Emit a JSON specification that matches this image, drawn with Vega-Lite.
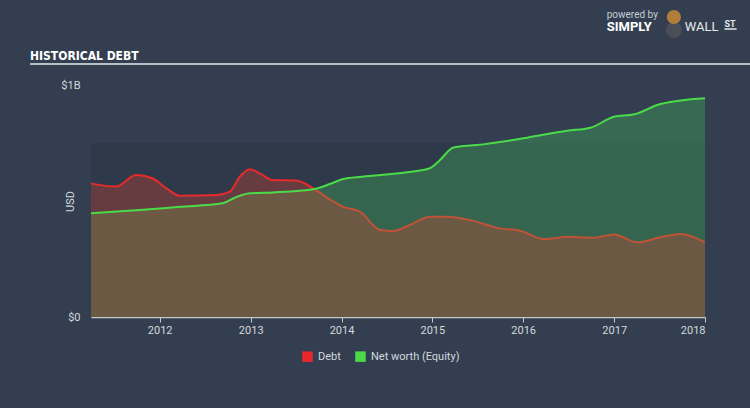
{
  "$schema": "https://vega.github.io/schema/vega-lite/v6.json",
  "width": 614,
  "height": 232,
  "autosize": {"type": "none"},
  "padding": {"left": 91, "top": 85, "right": 45, "bottom": 91},
  "background": "#333f50",
  "config": {
    "view": {"stroke": null},
    "font": "Roboto",
    "axis": {"grid": false, "labelFont": "Roboto", "titleFont": "Roboto"},
    "axisX": {"format": "%Y", "labelFlush": true, "domainColor": "#c3c9cf", "domainWidth": 1.5, "tickColor": "#c3c9cf",
              "tickSize": 5, "tickWidth": 1, "labelPadding": 2, "labelColor": "#d4d8dc", "labelFontSize": 11},
    "axisY": {"domain": false, "ticks": false, "labelPadding": 11, "labelColor": "#d4d8dc", "labelFontSize": 11,
              "titleColor": "#d4d8dc", "titleFontSize": 11, "titleFontWeight": "normal", "titleAngle": -90,
              "titleX": -18, "titleY": 116, "titleAlign": "center", "titleBaseline": "alphabetic",
              "labelExpr": "datum.value == 0 ? '$0' : '$1B'"}
  },
  "datasets": {
    "debt": [
      {"date": "2011-03-31", "series": "Debt", "usd": 576000000},
      {"date": "2011-07-10", "series": "Debt", "usd": 562000000},
      {"date": "2011-09-28", "series": "Debt", "usd": 612000000},
      {"date": "2011-12-03", "series": "Debt", "usd": 598000000},
      {"date": "2012-01-28", "series": "Debt", "usd": 555000000},
      {"date": "2012-03-22", "series": "Debt", "usd": 523000000},
      {"date": "2012-08-16", "series": "Debt", "usd": 526000000},
      {"date": "2012-10-09", "series": "Debt", "usd": 540000000},
      {"date": "2012-11-18", "series": "Debt", "usd": 605000000},
      {"date": "2012-12-28", "series": "Debt", "usd": 637000000},
      {"date": "2013-02-07", "series": "Debt", "usd": 619000000},
      {"date": "2013-04-01", "series": "Debt", "usd": 590000000},
      {"date": "2013-07-03", "series": "Debt", "usd": 588000000},
      {"date": "2013-09-15", "series": "Debt", "usd": 550000000},
      {"date": "2013-11-15", "series": "Debt", "usd": 507000000},
      {"date": "2014-01-08", "series": "Debt", "usd": 475000000},
      {"date": "2014-03-16", "series": "Debt", "usd": 454000000},
      {"date": "2014-06-05", "series": "Debt", "usd": 375000000},
      {"date": "2014-07-28", "series": "Debt", "usd": 371000000},
      {"date": "2014-10-03", "series": "Debt", "usd": 397000000},
      {"date": "2014-12-22", "series": "Debt", "usd": 432000000},
      {"date": "2015-02-28", "series": "Debt", "usd": 432000000},
      {"date": "2015-05-19", "series": "Debt", "usd": 421000000},
      {"date": "2015-09-30", "series": "Debt", "usd": 382000000},
      {"date": "2015-12-20", "series": "Debt", "usd": 372000000},
      {"date": "2016-03-25", "series": "Debt", "usd": 336000000},
      {"date": "2016-06-26", "series": "Debt", "usd": 346000000},
      {"date": "2016-10-11", "series": "Debt", "usd": 342000000},
      {"date": "2016-12-31", "series": "Debt", "usd": 356000000},
      {"date": "2017-04-04", "series": "Debt", "usd": 322000000},
      {"date": "2017-07-06", "series": "Debt", "usd": 344000000},
      {"date": "2017-09-25", "series": "Debt", "usd": 358000000},
      {"date": "2018-01-01", "series": "Debt", "usd": 322000000}
    ],
    "equity": [
      {"date": "2011-03-31", "series": "Net worth (Equity)", "usd": 447000000},
      {"date": "2011-10-12", "series": "Net worth (Equity)", "usd": 461000000},
      {"date": "2012-03-22", "series": "Net worth (Equity)", "usd": 475000000},
      {"date": "2012-09-10", "series": "Net worth (Equity)", "usd": 490000000},
      {"date": "2012-10-29", "series": "Net worth (Equity)", "usd": 514000000},
      {"date": "2012-12-28", "series": "Net worth (Equity)", "usd": 533000000},
      {"date": "2013-04-01", "series": "Net worth (Equity)", "usd": 537000000},
      {"date": "2013-09-15", "series": "Net worth (Equity)", "usd": 552000000},
      {"date": "2013-11-15", "series": "Net worth (Equity)", "usd": 573000000},
      {"date": "2014-01-08", "series": "Net worth (Equity)", "usd": 595000000},
      {"date": "2014-03-25", "series": "Net worth (Equity)", "usd": 605000000},
      {"date": "2014-09-20", "series": "Net worth (Equity)", "usd": 624000000},
      {"date": "2014-12-22", "series": "Net worth (Equity)", "usd": 641000000},
      {"date": "2015-02-01", "series": "Net worth (Equity)", "usd": 677000000},
      {"date": "2015-03-27", "series": "Net worth (Equity)", "usd": 731000000},
      {"date": "2015-06-28", "series": "Net worth (Equity)", "usd": 741000000},
      {"date": "2016-01-17", "series": "Net worth (Equity)", "usd": 773000000},
      {"date": "2016-06-26", "series": "Net worth (Equity)", "usd": 803000000},
      {"date": "2016-09-28", "series": "Net worth (Equity)", "usd": 816000000},
      {"date": "2016-12-31", "series": "Net worth (Equity)", "usd": 863000000},
      {"date": "2017-03-23", "series": "Net worth (Equity)", "usd": 874000000},
      {"date": "2017-07-06", "series": "Net worth (Equity)", "usd": 918000000},
      {"date": "2018-01-01", "series": "Net worth (Equity)", "usd": 943000000}
    ],
    "one": [{}]
  },
  "layer": [
    {
      "data": {"name": "one"},
      "mark": {"type": "rect", "fill": "#2e3a4a"},
      "encoding": {
        "x": {"datum": {"year": 2011, "month": 3, "date": 31}, "type": "temporal",
              "scale": {"domain": [{"year": 2011, "month": 3, "date": 31}, {"year": 2018, "month": 1, "date": 1}], "nice": false}},
        "x2": {"datum": {"year": 2018, "month": 1, "date": 1}},
        "y": {"datum": 0, "type": "quantitative", "scale": {"domain": [0, 1000000000], "nice": false}},
        "y2": {"datum": 750000000}
      }
    },
    {
      "data": {"name": "debt"},
      "mark": {"type": "line", "strokeWidth": 2, "interpolate": "monotone"},
      "encoding": {
        "x": {"field": "date", "type": "temporal", "axis": {"title": null, "tickCount": {"interval": "year", "step": 1}},
              "scale": {"domain": [{"year": 2011, "month": 3, "date": 31}, {"year": 2018, "month": 1, "date": 1}], "nice": false}},
        "y": {"field": "usd", "type": "quantitative", "stack": null, "axis": {"title": "USD", "values": [0, 1000000000]},
              "scale": {"domain": [0, 1000000000], "nice": false}},
        "color": {"field": "series", "type": "nominal",
                  "scale": {"domain": ["Debt", "Net worth (Equity)"], "range": ["#e8262b", "#4cdb48"]},
                  "legend": {"title": null, "orient": "none", "legendX": 211, "legendY": 266, "direction": "horizontal",
                             "symbolType": "square", "symbolSize": 110, "symbolStrokeWidth": 0, "labelColor": "#d4d8dc",
                             "labelFontSize": 11, "labelFont": "Roboto", "columnPadding": 14, "labelOffset": 5,
                             "encode": {"symbols": {"update": {"fill": {"scale": "color", "field": "value"}, "strokeWidth": {"value": 0}}}}}}
      }
    },
    {
      "data": {"name": "equity"},
      "mark": {"type": "area", "fill": "#45c95c", "fillOpacity": 0.3, "interpolate": "monotone"},
      "encoding": {
        "x": {"field": "date", "type": "temporal", "axis": {"title": null, "tickCount": {"interval": "year", "step": 1}},
              "scale": {"domain": [{"year": 2011, "month": 3, "date": 31}, {"year": 2018, "month": 1, "date": 1}], "nice": false}},
        "y": {"field": "usd", "type": "quantitative", "stack": null, "axis": {"title": "USD", "values": [0, 1000000000]},
              "scale": {"domain": [0, 1000000000], "nice": false}}
      }
    },
    {
      "data": {"name": "debt"},
      "mark": {"type": "area", "fill": "#e8402e", "fillOpacity": 0.31, "interpolate": "monotone"},
      "encoding": {
        "x": {"field": "date", "type": "temporal", "axis": {"title": null, "tickCount": {"interval": "year", "step": 1}},
              "scale": {"domain": [{"year": 2011, "month": 3, "date": 31}, {"year": 2018, "month": 1, "date": 1}], "nice": false}},
        "y": {"field": "usd", "type": "quantitative", "stack": null, "axis": {"title": "USD", "values": [0, 1000000000]},
              "scale": {"domain": [0, 1000000000], "nice": false}}
      }
    },
    {
      "data": {"name": "equity"},
      "mark": {"type": "line", "strokeWidth": 2, "interpolate": "monotone"},
      "encoding": {
        "x": {"field": "date", "type": "temporal", "axis": {"title": null, "tickCount": {"interval": "year", "step": 1}},
              "scale": {"domain": [{"year": 2011, "month": 3, "date": 31}, {"year": 2018, "month": 1, "date": 1}], "nice": false}},
        "y": {"field": "usd", "type": "quantitative", "stack": null, "axis": {"title": "USD", "values": [0, 1000000000]},
              "scale": {"domain": [0, 1000000000], "nice": false}},
        "color": {"field": "series", "type": "nominal"}
      }
    },
    {
      "data": {"name": "one"},
      "mark": {"type": "rule", "stroke": "#b8c0c8", "strokeWidth": 2},
      "encoding": {
        "x": {"datum": {"year": 2010, "month": 7, "date": 29}, "type": "temporal"},
        "x2": {"datum": {"year": 2018, "month": 11, "date": 1}},
        "y": {"datum": 1090500000, "type": "quantitative"}
      }
    },
    {
      "data": {"name": "one"},
      "mark": {"type": "text", "text": "HISTORICAL DEBT", "font": "DejaVu Sans Condensed, Liberation Sans, sans-serif", "fontWeight": "bold", "fontSize": 12, "fill": "#ffffff", "align": "left", "baseline": "alphabetic"},
      "encoding": {
        "x": {"datum": {"year": 2010, "month": 7, "date": 29}, "type": "temporal"},
        "y": {"datum": 1107800000, "type": "quantitative"}
      }
    },
    {
      "data": {"name": "one"},
      "mark": {"type": "text", "text": "powered by", "fontSize": 10, "fill": "#c4ccd4", "align": "left", "baseline": "alphabetic"},
      "encoding": {
        "x": {"datum": {"year": 2016, "month": 12, "date": 2}, "type": "temporal"},
        "y": {"datum": 1288800000, "type": "quantitative"}
      }
    },
    {
      "data": {"name": "one"},
      "mark": {"type": "text", "text": "SIMPLY", "fontSize": 13, "fontWeight": "bold", "fill": "#ffffff", "align": "left", "baseline": "alphabetic"},
      "encoding": {
        "x": {"datum": {"year": 2016, "month": 12, "date": 2}, "type": "temporal"},
        "y": {"datum": 1232800000, "type": "quantitative"}
      }
    },
    {
      "data": {"name": "one"},
      "mark": {"type": "text", "text": "WALL", "fontSize": 13, "fill": "#e6e9ec", "align": "left", "baseline": "alphabetic"},
      "encoding": {
        "x": {"datum": {"year": 2017, "month": 10, "date": 12}, "type": "temporal"},
        "y": {"datum": 1232800000, "type": "quantitative"}
      }
    },
    {
      "data": {"name": "one"},
      "mark": {"type": "text", "text": "ST", "fontSize": 9, "fontWeight": "bold", "fill": "#e6e9ec", "align": "left", "baseline": "alphabetic"},
      "encoding": {
        "x": {"datum": {"year": 2018, "month": 3, "date": 20}, "type": "temporal"},
        "y": {"datum": 1250000000, "type": "quantitative"}
      }
    },
    {
      "data": {"name": "one"},
      "mark": {"type": "rule", "stroke": "#e6e9ec", "strokeWidth": 1.5},
      "encoding": {
        "x": {"datum": {"year": 2018, "month": 3, "date": 20}, "type": "temporal"},
        "x2": {"datum": {"year": 2018, "month": 5, "date": 8}},
        "y": {"datum": 1241400000, "type": "quantitative"}
      }
    },
    {
      "data": {"name": "one"},
      "mark": {"type": "point", "shape": "circle", "filled": true, "size": 260, "fill": "#4a4f57", "opacity": 1},
      "encoding": {
        "x": {"datum": {"year": 2017, "month": 8, "date": 29}, "type": "temporal"},
        "y": {"datum": 1237000000, "type": "quantitative"}
      }
    },
    {
      "data": {"name": "one"},
      "mark": {"type": "point", "shape": "circle", "filled": true, "size": 200, "fill": "#b07d3a", "opacity": 1},
      "encoding": {
        "x": {"datum": {"year": 2017, "month": 8, "date": 29}, "type": "temporal"},
        "y": {"datum": 1293000000, "type": "quantitative"}
      }
    }
  ]
}
